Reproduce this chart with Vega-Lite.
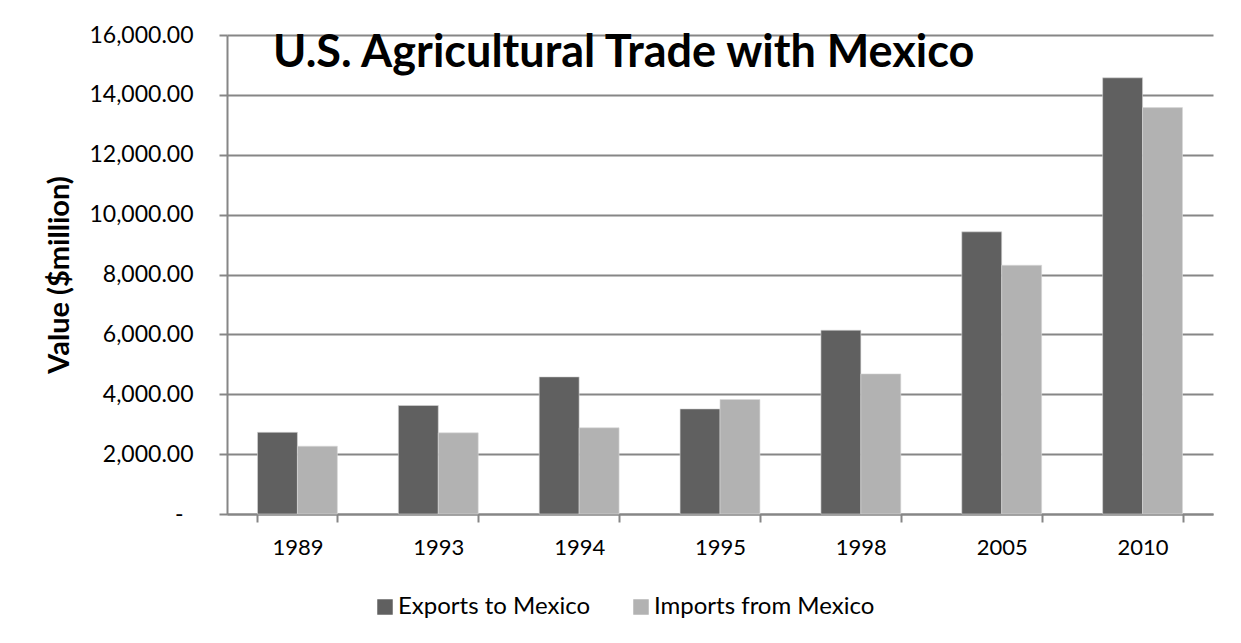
{
  "$schema": "https://vega.github.io/schema/vega-lite/v6.json",
  "autosize": {"type": "none"},
  "width": 986,
  "height": 479,
  "padding": {"left": 227, "top": 35, "right": 28, "bottom": 129},
  "background": "white",
  "title": {
    "text": "U.S. Agricultural Trade with Mexico",
    "anchor": "start",
    "frame": "group",
    "orient": "top",
    "baseline": "alphabetic",
    "offset": -88,
    "dx": 46,
    "font": "Lato",
    "fontSize": 45,
    "fontWeight": "bold",
    "color": "#000000"
  },
  "data": {
    "values": [
      {"year": "1989", "series": "Exports to Mexico", "value": 2730},
      {"year": "1989", "series": "Imports from Mexico", "value": 2265},
      {"year": "1993", "series": "Exports to Mexico", "value": 3625},
      {"year": "1993", "series": "Imports from Mexico", "value": 2710},
      {"year": "1994", "series": "Exports to Mexico", "value": 4580},
      {"year": "1994", "series": "Imports from Mexico", "value": 2880},
      {"year": "1995", "series": "Exports to Mexico", "value": 3510},
      {"year": "1995", "series": "Imports from Mexico", "value": 3825},
      {"year": "1998", "series": "Exports to Mexico", "value": 6140},
      {"year": "1998", "series": "Imports from Mexico", "value": 4680},
      {"year": "2005", "series": "Exports to Mexico", "value": 9425},
      {"year": "2005", "series": "Imports from Mexico", "value": 8310},
      {"year": "2010", "series": "Exports to Mexico", "value": 14570},
      {"year": "2010", "series": "Imports from Mexico", "value": 13575}
    ]
  },
  "mark": {"type": "bar", "stroke": "#d9d9d9", "strokeWidth": 0.6},
  "encoding": {
    "x": {
      "field": "year",
      "type": "nominal",
      "sort": null,
      "scale": {"paddingInner": 0.433, "paddingOuter": 0.2165},
      "axis": {
        "title": null,
        "labelAngle": 0,
        "labelFont": "Lato",
        "labelFontSize": 22,
        "labelColor": "#000000",
        "labelPadding": 15,
        "tickBand": "extent",
        "tickSize": 8,
        "tickColor": "#868686",
        "tickWidth": 2,
        "domainColor": "#868686",
        "domainWidth": 2,
        "grid": false
      }
    },
    "xOffset": {
      "field": "series",
      "type": "nominal",
      "scale": {"paddingInner": 0, "paddingOuter": 0}
    },
    "y": {
      "field": "value",
      "type": "quantitative",
      "scale": {"domain": [0, 16000], "nice": false},
      "axis": {
        "title": "Value ($million)",
        "titleFont": "Lato",
        "titleFontSize": 29,
        "titleFontWeight": "bold",
        "titleColor": "#000000",
        "titlePadding": 14,
        "values": [0, 2000, 4000, 6000, 8000, 10000, 12000, 14000, 16000],
        "labelExpr": "datum.value == 0 ? '-' : format(datum.value, ',.2f')",
        "labelFont": "Lato",
        "labelFontSize": 23,
        "labelColor": "#000000",
        "labelPadding": {"condition": {"test": "datum.value == 0", "value": 36}, "value": 26},
        "tickSize": 8,
        "tickColor": "#868686",
        "tickWidth": 2,
        "domainColor": "#868686",
        "domainWidth": 2,
        "grid": true,
        "gridColor": "#868686",
        "gridWidth": 2
      }
    },
    "color": {
      "field": "series",
      "type": "nominal",
      "scale": {
        "domain": ["Exports to Mexico", "Imports from Mexico"],
        "range": ["#606060", "#b2b2b2"]
      },
      "legend": {
        "title": null,
        "orient": "none",
        "direction": "horizontal",
        "legendX": 146,
        "legendY": 560,
        "symbolType": "square",
        "symbolSize": 240,
        "symbolStrokeWidth": 0,
        "labelFont": "Lato",
        "labelFontSize": 24,
        "labelColor": "#000000",
        "labelLimit": 0,
        "labelOffset": 1,
        "columnPadding": 38
      }
    }
  },
  "config": {
    "view": {"stroke": null}
  }
}
